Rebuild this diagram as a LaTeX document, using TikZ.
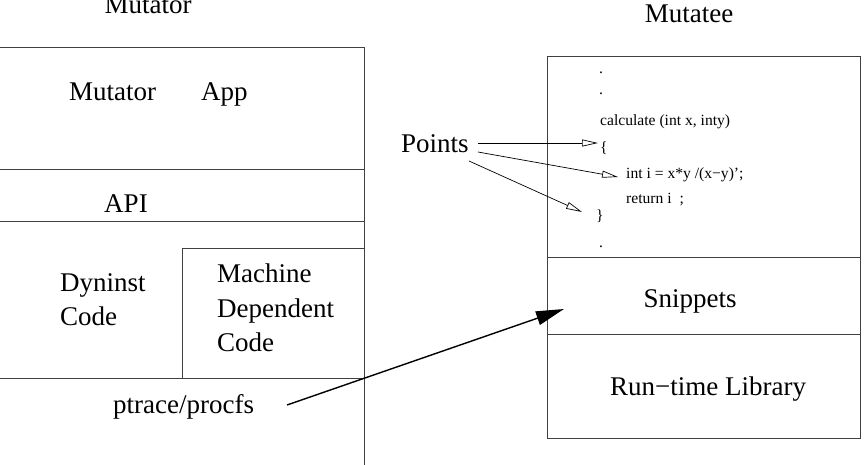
\documentclass[tikz,border=0pt]{standalone}
\usepackage{fontspec}
\setmainfont{Liberation Serif}
\usetikzlibrary{arrows.meta}
\begin{document}
\begin{tikzpicture}[x=1pt,y=-1pt,
  box/.style={line width=0.8pt, draw=black!75},
  big/.style={font=\fontsize{27}{30}\selectfont, inner sep=0pt},
  code/.style={font=\fontsize{15.6}{18}\selectfont, inner sep=0pt, anchor=base west},
  ptarrow/.style={line width=0.7pt, -{Triangle[open, length=16pt, width=7pt]}},
  bigarrow/.style={line width=1.4pt, -{Triangle[length=28pt, width=14pt]}}]
\useasboundingbox (0,0) rectangle (866,464);
% Mutator box
\draw[box] (0,47) -- (364,47) -- (364,470);
\draw[box] (0,169) -- (364,169);
\draw[box] (0,221) -- (364,221);
\draw[box] (0,378) -- (364,378);
\draw[box] (182,378) -- (182,248) -- (364,248);
% Mutatee box
\draw[box] (547,56) rectangle (860,438);
\draw[box] (547,257) -- (860,257);
\draw[box] (547,334) -- (860,334);
% titles
\node[big, anchor=base] (tmutator) at (148,13) {Mutator};
\node[big, anchor=base] (tmutatee) at (689,22) {Mutatee};
% left labels
\node[big, anchor=base west] (mut) at (69,100) {Mutator};
\node[big, anchor=base west] (app) at (201,100) {App};
\node[big, anchor=base] (api) at (126,212) {API};
\node[big, anchor=base west] (dyn1) at (60,291) {Dyninst};
\node[big, anchor=base west] (dyn2) at (60,325) {Code};
\node[big, anchor=base west] (md1) at (217,282) {Machine};
\node[big, anchor=base west] (md2) at (217,317) {Dependent};
\node[big, anchor=base west] (md3) at (217,351) {Code};
\node[big, anchor=base west] (ptrace) at (113,413) {ptrace/procfs};
% right labels
\node[big, anchor=base] (snip) at (690,307) {Snippets};
\node[big, anchor=base] (rtl) at (708,395) {Run−time Library};
% code
\node[code] (d1) at (599,73) {.};
\node[code] (d2) at (599,94) {.};
\node[code] (calc) at (600,125) {calculate (int x, inty)};
\node[code] (lb) at (600,152) {\{};
\node[code] (line1) at (626,178) {int i = x*y /(x−y)’;};
\node[code] (ret) at (626,203) {return i~~;};
\node[code] (rb) at (596,220) {\}};
\node[code] (d3) at (599,247) {.};
% points
\node[big, anchor=base west] (pts) at (401,152) {Points};
\coordinate (s1) at (478,143);
\coordinate (s2) at (478,152);
\coordinate (s3) at (469,161);
\coordinate (e1) at (598,143);
\coordinate (e2) at (618,177);
\coordinate (e3) at (582,212);
\draw[ptarrow] (s1) -- (e1);
\draw[ptarrow] (s2) -- (e2);
\draw[ptarrow] (s3) -- (e3);
% big arrow
\coordinate (bs) at (287,405);
\coordinate (be) at (564,309);
\draw[bigarrow] (bs) -- (be);
\end{tikzpicture}
\end{document}
